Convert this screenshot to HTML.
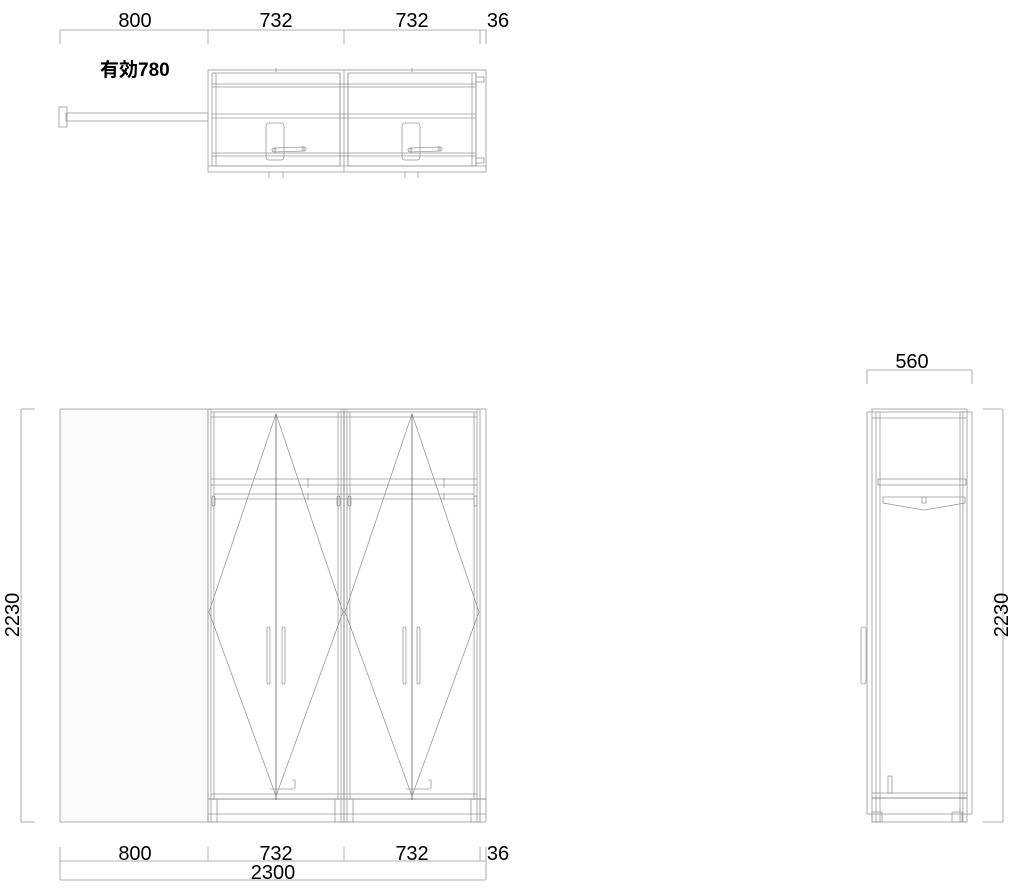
<!DOCTYPE html>
<html><head><meta charset="utf-8"><style>
html,body{margin:0;padding:0;background:#fff;}
svg{display:block}
text{font-family:"Liberation Sans","Noto Sans CJK JP",sans-serif;font-size:20px;fill:#000}
</style></head><body>
<svg width="1024" height="889" viewBox="0 0 1024 889" xmlns="http://www.w3.org/2000/svg">
<g stroke="#999" stroke-width="0.8" fill="none">
<line x1="60" y1="30" x2="486" y2="30"/>
<line x1="60" y1="30" x2="60" y2="44"/><line x1="208" y1="30" x2="208" y2="44"/>
<line x1="344" y1="30" x2="344" y2="44"/><line x1="480" y1="30" x2="480" y2="44"/>
<line x1="486" y1="30" x2="486" y2="44"/>
<rect x="208" y="70" width="278" height="102"/>
<rect x="212" y="73" width="128" height="93"/>
<rect x="348" y="73" width="128" height="93"/>
<line x1="344" y1="70" x2="344" y2="172"/><line x1="340" y1="73" x2="340" y2="166"/><line x1="348" y1="73" x2="348" y2="166"/>
<line x1="212" y1="84" x2="476" y2="84"/><line x1="212" y1="87" x2="476" y2="87"/>
<line x1="212" y1="114" x2="476" y2="114"/><line x1="212" y1="118" x2="476" y2="118"/>
<line x1="212" y1="153" x2="476" y2="153"/><line x1="212" y1="156" x2="476" y2="156"/>
<line x1="208" y1="166" x2="486" y2="166"/>
<line x1="216" y1="73" x2="216" y2="166"/><line x1="472" y1="73" x2="472" y2="166"/>
<line x1="476" y1="73" x2="476" y2="166"/>
<rect x="476" y="77" width="8" height="5"/><rect x="476" y="158" width="8" height="5"/>
<rect x="66" y="113" width="142" height="8"/>
<rect x="59" y="107" width="8" height="20"/>
<rect x="266" y="123" width="18" height="37" rx="3"/>
<rect x="402" y="123" width="18" height="37" rx="3"/>
<path d="M274 148 L304 147 L304 151 L274 152 Z"/><circle cx="274" cy="150" r="2"/><circle cx="304" cy="149" r="2"/>
<path d="M410 148 L440 147 L440 151 L410 152 Z"/><circle cx="410" cy="150" r="2"/><circle cx="440" cy="149" r="2"/>
<line x1="269" y1="172" x2="269" y2="178"/><line x1="283" y1="172" x2="283" y2="178"/>
<line x1="405" y1="172" x2="405" y2="178"/><line x1="418" y1="172" x2="418" y2="178"/>
<line x1="276" y1="68" x2="276" y2="72"/><line x1="412" y1="68" x2="412" y2="72"/>
<line x1="21" y1="409" x2="21" y2="822"/><line x1="21" y1="409" x2="35" y2="409"/><line x1="21" y1="822" x2="35" y2="822"/>
<rect x="60" y="409" width="148" height="413" fill="#fbfbfb"/>
<rect x="208" y="409" width="278" height="413"/>
<line x1="211" y1="409" x2="211" y2="822"/><line x1="214" y1="412" x2="214" y2="800"/>
<line x1="341" y1="409" x2="341" y2="822"/><line x1="344" y1="409" x2="344" y2="822" stroke="#666"/><line x1="347" y1="409" x2="347" y2="822"/>
<line x1="338" y1="412" x2="338" y2="800"/><line x1="350" y1="412" x2="350" y2="800"/>
<line x1="474" y1="412" x2="474" y2="800"/><line x1="477" y1="409" x2="477" y2="822"/><line x1="480" y1="409" x2="480" y2="822"/>
<line x1="211" y1="412" x2="477" y2="412"/><line x1="211" y1="417" x2="477" y2="417"/>
<line x1="211" y1="479" x2="477" y2="479"/><line x1="211" y1="485" x2="477" y2="485"/>
<line x1="214" y1="494" x2="474" y2="494"/><line x1="214" y1="499" x2="474" y2="499"/>
<path d="M276 414 L209 612 L276 796 L343 612 Z"/>
<path d="M412 414 L345 612 L412 796 L479 612 Z"/>
<line x1="276" y1="414" x2="276" y2="800" stroke="#666"/>
<line x1="412" y1="414" x2="412" y2="800" stroke="#666"/>
<rect x="267" y="627" width="3" height="57" rx="1.5"/><rect x="282" y="627" width="3" height="57" rx="1.5"/>
<rect x="403" y="627" width="3" height="57" rx="1.5"/><rect x="417" y="627" width="3" height="57" rx="1.5"/>
<rect x="212" y="496" width="3" height="10" rx="1.5"/><rect x="337" y="496" width="3" height="10" rx="1.5"/>
<rect x="348" y="496" width="3" height="10" rx="1.5"/><rect x="474" y="496" width="3" height="10" rx="1.5"/>
<line x1="308" y1="478" x2="308" y2="488"/><line x1="308" y1="493" x2="308" y2="500"/>
<line x1="444" y1="478" x2="444" y2="488"/><line x1="444" y1="493" x2="444" y2="500"/>
<line x1="211" y1="794" x2="477" y2="794"/><line x1="208" y1="799" x2="486" y2="799" stroke="#666"/>
<line x1="208" y1="814" x2="486" y2="814"/>
<rect x="208" y="799" width="9" height="23"/><rect x="335" y="799" width="9" height="23"/>
<rect x="344" y="799" width="9" height="23"/><rect x="471" y="799" width="9" height="23"/>
<path d="M270 789 L294 789 M292 780 L295 780 L295 789 M406 789 L430 789 M428 780 L431 780 L431 789"/>
<line x1="60" y1="861" x2="486" y2="861"/>
<line x1="60" y1="847" x2="60" y2="880"/><line x1="208" y1="847" x2="208" y2="861"/>
<line x1="344" y1="847" x2="344" y2="861"/><line x1="480" y1="847" x2="480" y2="861"/>
<line x1="486" y1="847" x2="486" y2="880"/>
<line x1="60" y1="880" x2="486" y2="880"/>
<line x1="867" y1="370" x2="972" y2="370"/><line x1="867" y1="370" x2="867" y2="384"/><line x1="972" y1="370" x2="972" y2="384"/>
<rect x="867" y="412" width="105" height="402"/>
<rect x="872" y="409" width="95" height="413"/>
<line x1="876" y1="412" x2="876" y2="822"/><line x1="880" y1="412" x2="880" y2="822"/>
<line x1="960" y1="412" x2="960" y2="822"/><line x1="963" y1="412" x2="963" y2="822"/>
<line x1="872" y1="418" x2="967" y2="418"/>
<rect x="878" y="479" width="88" height="6"/>
<path d="M883 497 L965 497 L965 503 L924 510 L883 503 Z"/>
<rect x="922" y="497" width="4" height="6"/>
<rect x="861" y="627" width="5" height="57" rx="2"/>
<line x1="872" y1="793" x2="967" y2="793"/><line x1="872" y1="798" x2="967" y2="798" stroke="#666"/>
<rect x="888" y="776" width="4" height="17"/>
<rect x="872" y="812" width="10" height="10"/><rect x="952" y="812" width="10" height="10"/>
<line x1="983" y1="409" x2="1003" y2="409"/><line x1="1003" y1="409" x2="1003" y2="822"/><line x1="983" y1="822" x2="1003" y2="822"/>
</g>
<text x="135" y="27" text-anchor="middle">800</text>
<text x="276" y="27" text-anchor="middle">732</text>
<text x="412" y="27" text-anchor="middle">732</text>
<text x="498" y="27" text-anchor="middle">36</text>
<text x="100" y="76" style="font-weight:bold;font-size:19px">有効780</text>
<text x="135" y="860" text-anchor="middle">800</text>
<text x="276" y="860" text-anchor="middle">732</text>
<text x="412" y="860" text-anchor="middle">732</text>
<text x="498" y="860" text-anchor="middle">36</text>
<text x="273" y="879" text-anchor="middle">2300</text>
<text x="912" y="368" text-anchor="middle">560</text>
<text transform="translate(19,615) rotate(-90)" text-anchor="middle">2230</text>
<text transform="translate(1008,615) rotate(-90)" text-anchor="middle">2230</text>
</svg>
</body></html>
